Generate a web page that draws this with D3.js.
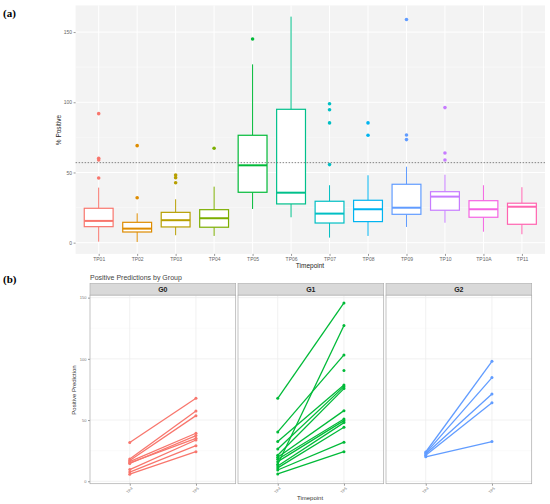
<!DOCTYPE html>
<html><head><meta charset="utf-8">
<script src="https://cdn.jsdelivr.net/npm/d3@7"></script>
<style>body{margin:0;background:#fff}svg{display:block}</style>
</head><body>
<script>
// ---------- Panel (a) data ----------
const timepoints = ["TP01","TP02","TP03","TP04","TP05","TP06","TP07","TP08","TP09","TP10","TP10A","TP11"];
const whiskerLow = [0.7, 0.5, 5.3, 4.8, 24.0, 18.1, 3.6, 4.8, 11.2, 14.2, 7.8, 6.0];
const q1 =         [11.4, 7.6, 11.2, 11.0, 35.9, 27.6, 14.0, 15.0, 20.2, 23.1, 18.1, 13.1];
const medians =    [15.5, 10.0, 16.0, 17.4, 55.1, 35.6, 20.7, 23.8, 24.9, 32.8, 23.8, 25.6];
const q3 =         [24.5, 14.5, 21.6, 23.5, 76.5, 95.0, 29.5, 30.2, 41.6, 36.3, 29.9, 28.1];
const whiskerHigh =[39.2, 20.9, 30.9, 39.9, 127.0, 161.0, 40.9, 48.0, 54.1, 48.4, 40.9, 39.5];
const outliers = [[91.9,60.1,58.9,46.1],[69.1,32.0],[48.2,46.3,42.7],[67.2],[145.1],[],
                  [99.0,94.7,85.3,55.6],[85.3,76.5],[159.0,76.7,73.4],[96.2,63.9,58.9],[],[]];
const threshold = 57;
const yTicksA = [0, 50, 100, 150];

// ---------- Panel (b) data ----------
const groups = ["G0","G1","G2"];
const bTimepoints = ["TP4","TP5"];
const g0TP4 = [31.6, 18.2, 17.0, 16.0, 15.0, 14.5, 9.5, 7.5, 5.8];
const g0TP5 = [67.8, 57.4, 53.6, 39.2, 35.1, 37.3, 33.7, 29.1, 24.2];
const g1TP4 = [67.8, 40.3, null, 32.4, 26.4, 21.2, 13.9, 19.6, 18.0, 16.0, 12.5, 10.9, 9.2, 6.0];
const g1TP5 = [145.7, 103.2, 90.4, 78.7, 77.3, 75.7, 127.2, 57.7, 50.9, 49.5, 47.9, 44.1, 31.9, 24.2];
const g2TP4 = [23.9, 23.0, 22.3, 21.2, 20.0];
const g2TP5 = [98.0, 84.7, 71.3, 64.2, 32.4];
const yTicksB = [0, 50, 100, 150];

const hue = ["#F8766D","#DE8C00","#B79F00","#7CAE00","#00BA38","#00C08B","#00BFC4","#00B4F0","#619CFF","#C77CFF","#F564E3","#FF64B0"];
const groupColors = ["#F8766D","#00BA38","#619CFF"];

const SANS = '"Liberation Sans", Arial, sans-serif';
const SERIF = '"Liberation Serif", "Times New Roman", serif';

const svg = d3.select("body").append("svg").attr("width",550).attr("height",504)
  .style("font-family", SANS);

// ========== Panel (a) ==========
const xA = d3.scalePoint().domain(timepoints).range([75.6, 545]).padding(0.6);
const yA = d3.scaleLinear().domain([-8, 169]).range([253.9, 5.4]);
const stepA = xA.step();
const gA = svg.append("g");
gA.append("rect").attr("x",75.6).attr("y",5.4).attr("width",545-75.6).attr("height",253.9-5.4).attr("fill","#f3f3f3");
[25,75,125].forEach(v=>gA.append("line").attr("x1",75.6).attr("x2",545).attr("y1",yA(v)).attr("y2",yA(v)).attr("stroke","#fbfbfb").attr("stroke-width",0.5));
yTicksA.forEach(v=>gA.append("line").attr("x1",75.6).attr("x2",545).attr("y1",yA(v)).attr("y2",yA(v)).attr("stroke","#ffffff").attr("stroke-width",1));
timepoints.forEach(t=>gA.append("line").attr("x1",xA(t)).attr("x2",xA(t)).attr("y1",5.4).attr("y2",253.9).attr("stroke","#ffffff").attr("stroke-width",1));

timepoints.forEach((t,i)=>{
  const cx = xA(t), w = stepA*0.75, c = hue[i];
  const g = gA.append("g");
  g.append("line").attr("x1",cx).attr("x2",cx).attr("y1",yA(q3[i])).attr("y2",yA(whiskerHigh[i])).attr("stroke",c).attr("stroke-width",1);
  g.append("line").attr("x1",cx).attr("x2",cx).attr("y1",yA(q1[i])).attr("y2",yA(whiskerLow[i])).attr("stroke",c).attr("stroke-width",1);
  g.append("rect").attr("x",cx-w/2).attr("y",yA(q3[i])).attr("width",w).attr("height",yA(q1[i])-yA(q3[i]))
    .attr("fill","#fff").attr("stroke",c).attr("stroke-width",1.2);
  g.append("line").attr("x1",cx-w/2).attr("x2",cx+w/2).attr("y1",yA(medians[i])).attr("y2",yA(medians[i])).attr("stroke",c).attr("stroke-width",2);
  outliers[i].forEach(o=>g.append("circle").attr("cx",cx).attr("cy",yA(o)).attr("r",1.8).attr("fill",c));
});
gA.append("line").attr("x1",75.6).attr("x2",545).attr("y1",yA(threshold)).attr("y2",yA(threshold))
  .attr("stroke","#777").attr("stroke-width",0.9).attr("stroke-dasharray","1.5,1.5");

const axYA = gA.append("g").attr("transform","translate(75.6,0)").call(d3.axisLeft(yA).tickValues(yTicksA).tickSize(2).tickPadding(1.5));
const axXA = gA.append("g").attr("transform","translate(0,253.9)").call(d3.axisBottom(xA).tickSize(2).tickPadding(1.5));
[axYA,axXA].forEach(a=>{a.attr("font-family",null).attr("font-size",null);a.select(".domain").remove();a.selectAll(".tick line").attr("stroke","#999");a.selectAll("text").style("font-size","5px").style("font-family",SANS).attr("fill","#666");});
gA.append("text").attr("x",310).attr("y",268).attr("text-anchor","middle").style("font-size","6.5px").attr("fill","#222").text("Timepoint");
gA.append("text").attr("transform","translate(61,130) rotate(-90)").attr("text-anchor","middle").style("font-size","6.5px").attr("fill","#222").text("% Positive");
svg.append("text").attr("x",3).attr("y",17).style("font-family",SERIF).style("font-weight","bold").style("font-size","11px").text("(a)");

// ========== Panel (b) ==========
svg.append("text").attr("x",3).attr("y",283).style("font-family",SERIF).style("font-weight","bold").style("font-size","11px").text("(b)");
svg.append("text").attr("x",90).attr("y",279.5).style("font-size","7px").attr("fill","#444").text("Positive Predictions by Group");

const yB = d3.scaleLinear().domain([-2, 152]).range([483.7, 295.2]);
const panelW = 145.7;
const panelX = d3.scalePoint().domain(groups).range([90, 386]);
const pairsByGroup = [[g0TP4,g0TP5],[g1TP4,g1TP5],[g2TP4,g2TP5]];

groups.forEach((grp,gi)=>{
  const x0 = panelX(grp);
  const xB = d3.scalePoint().domain(bTimepoints).range([x0, x0+panelW]).padding(0.6);
  const g = svg.append("g");
  g.append("rect").attr("x",x0).attr("y",283.5).attr("width",panelW).attr("height",295.2-283.5).attr("fill","#d9d9d9").attr("stroke","#aaa").attr("stroke-width",0.6);
  g.append("text").attr("x",x0+panelW/2).attr("y",292).attr("text-anchor","middle").style("font-size","7px").style("font-weight","bold").attr("fill","#222").text(grp);
  g.append("rect").attr("x",x0).attr("y",295.2).attr("width",panelW).attr("height",483.7-295.2).attr("fill","#fff");
  [25,75,125].forEach(v=>g.append("line").attr("x1",x0).attr("x2",x0+panelW).attr("y1",yB(v)).attr("y2",yB(v)).attr("stroke","#f6f6f6").attr("stroke-width",0.5));
  yTicksB.forEach(v=>g.append("line").attr("x1",x0).attr("x2",x0+panelW).attr("y1",yB(v)).attr("y2",yB(v)).attr("stroke","#ededed").attr("stroke-width",0.8));
  bTimepoints.forEach(t=>g.append("line").attr("x1",xB(t)).attr("x2",xB(t)).attr("y1",295.2).attr("y2",483.7).attr("stroke","#ededed").attr("stroke-width",0.8));
  const [a,b] = pairsByGroup[gi]; const c = groupColors[gi];
  a.forEach((v,i)=>{
    if (v!=null && b[i]!=null) g.append("line").attr("x1",xB("TP4")).attr("y1",yB(v)).attr("x2",xB("TP5")).attr("y2",yB(b[i])).attr("stroke",c).attr("stroke-width",1.3);
  });
  a.forEach(v=>{ if(v!=null) g.append("circle").attr("cx",xB("TP4")).attr("cy",yB(v)).attr("r",1.5).attr("fill",c); });
  b.forEach(v=>{ if(v!=null) g.append("circle").attr("cx",xB("TP5")).attr("cy",yB(v)).attr("r",1.5).attr("fill",c); });
  g.append("rect").attr("x",x0).attr("y",295.2).attr("width",panelW).attr("height",483.7-295.2).attr("fill","none").attr("stroke","#aaa").attr("stroke-width",0.7);
  const ax = g.append("g").attr("transform",`translate(0,483.7)`).call(d3.axisBottom(xB).tickSize(2).tickPadding(1));
  ax.attr("font-family",null).attr("font-size",null);
  ax.select(".domain").remove(); ax.selectAll(".tick line").attr("stroke","#999");
  ax.selectAll("text").style("font-size","4px").style("font-family",SANS).attr("fill","#777").attr("text-anchor","end").attr("dy","0.3em")
    .attr("transform","translate(0,2) rotate(-45)");
  if (gi===0) {
    const ay = g.append("g").attr("transform",`translate(${x0},0)`).call(d3.axisLeft(yB).tickValues(yTicksB).tickSize(2).tickPadding(1.5));
    ay.attr("font-family",null).attr("font-size",null);
    ay.select(".domain").remove(); ay.selectAll(".tick line").attr("stroke","#999");
    ay.selectAll("text").style("font-size","4px").style("font-family",SANS).attr("fill","#777");
  }
});
svg.append("text").attr("x",310).attr("y",500).attr("text-anchor","middle").style("font-size","6px").attr("fill","#333").text("Timepoint");
svg.append("text").attr("transform","translate(76,390) rotate(-90)").attr("text-anchor","middle").style("font-size","6px").attr("fill","#333").text("Positive Prediction");
</script>
</body></html>
